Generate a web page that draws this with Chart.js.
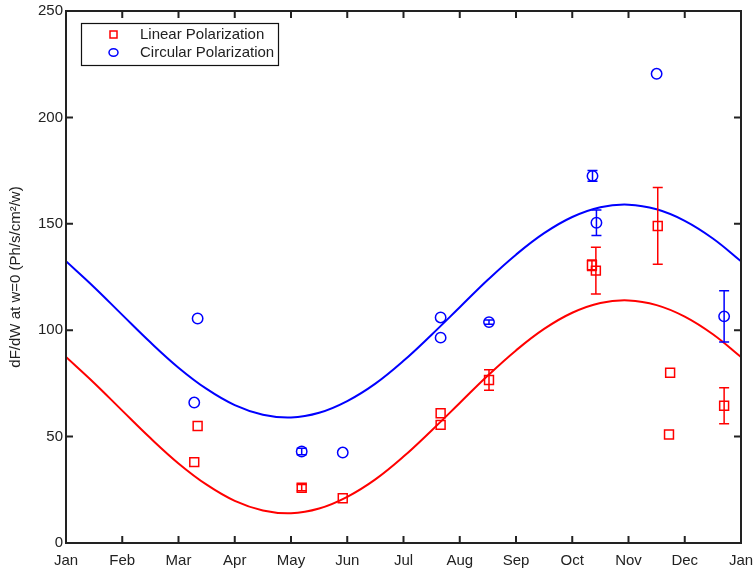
<!DOCTYPE html>
<html>
<head>
<meta charset="utf-8">
<script src="https://cdn.jsdelivr.net/npm/chart.js@4/dist/chart.umd.min.js"></script>
<style>
  body { margin: 0; background: #fff; }
  canvas { display: block; }
</style>
</head>
<body>
<canvas id="chart" width="754" height="572"></canvas>
<script>
const monthLabels = ['Jan', 'Feb', 'Mar', 'Apr', 'May', 'Jun', 'Jul', 'Aug', 'Sep', 'Oct', 'Nov', 'Dec', 'Jan'];

// fitted curves, every half month
const fitX = [0, 0.5, 1, 1.5, 2, 2.5, 3, 3.5, 4, 4.5, 5, 5.5, 6, 6.5, 7, 7.5, 8, 8.5, 9, 9.5, 10, 10.5, 11, 11.5, 12];
const circularFit = [132.4, 120.2, 107.2, 94.3, 82.4, 72.4, 64.8, 60.3, 59.0, 61.2, 66.7, 74.9, 85.6, 97.9, 110.8, 123.7, 135.5, 145.6, 153.2, 157.8, 159.0, 156.8, 151.4, 143.1, 132.4];
const linearFit = [87.4, 75.2, 62.2, 49.3, 37.4, 27.4, 19.8, 15.3, 14.0, 16.2, 21.7, 29.9, 40.6, 52.9, 65.8, 78.7, 90.5, 100.6, 108.2, 112.8, 114.0, 111.8, 106.4, 98.1, 87.4];

// measurements (x in months from Jan 1)
const linearX = [2.34, 2.28, 4.19, 4.92, 6.66, 6.66, 7.52, 9.35, 9.42, 10.52, 10.74, 10.72, 11.70];
const linearY = [55, 38, 26, 21, 61, 55.5, 76.6, 130.5, 128, 149, 80, 51, 64.5];
const linearErr = [0, 0, 1.5, 0, 0, 0, 4.8, 2.5, 11, 18, 0, 0, 8.5];

const circularX = [2.34, 2.28, 4.19, 4.92, 6.66, 6.66, 7.52, 9.36, 9.43, 10.50, 11.70];
const circularY = [105.5, 66, 43, 42.5, 106, 96.5, 103.8, 172.5, 150.5, 220.5, 106.5];
const circularErr = [0, 0, 1.5, 0, 0, 0, 1, 2.5, 6, 0, 12];

const RED = 'rgb(255,0,0)';
const BLUE = 'rgb(0,0,255)';
const FONT = "'Liberation Sans', Arial, sans-serif";

function toPoints(xs, ys) {
    return xs.map((x, i) => ({ x: x, y: ys[i] }));
}

const matlabFrame = {
    id: 'matlabFrame',
    afterDatasetsDraw(chart) {
        const ctx = chart.ctx;
        const xs = chart.scales.x;
        const ys = chart.scales.y;
        ctx.save();
        chart.data.datasets.forEach(ds => {
            if (!ds.errs) return;
            ctx.strokeStyle = ds.borderColor;
            ctx.lineWidth = 1.5;
            ds.data.forEach((p, i) => {
                const e = ds.errs[i];
                if (!e) return;
                const px = xs.getPixelForValue(p.x);
                const top = ys.getPixelForValue(p.y + e);
                const bot = ys.getPixelForValue(p.y - e);
                ctx.beginPath();
                ctx.moveTo(px, top); ctx.lineTo(px, bot);
                ctx.moveTo(px - 5, top); ctx.lineTo(px + 5, top);
                ctx.moveTo(px - 5, bot); ctx.lineTo(px + 5, bot);
                ctx.stroke();
            });
        });
        ctx.restore();
    },
    afterDraw(chart) {
        const ctx = chart.ctx;
        const a = chart.chartArea;
        const xs = chart.scales.x;
        const ys = chart.scales.y;
        const tl = 7;
        ctx.save();
        ctx.strokeStyle = '#222';
        ctx.lineWidth = 2;
        ctx.strokeRect(a.left, a.top, a.right - a.left, a.bottom - a.top);
        ctx.beginPath();
        xs.ticks.forEach(t => {
            const px = xs.getPixelForValue(t.value);
            ctx.moveTo(px, a.bottom); ctx.lineTo(px, a.bottom - tl);
            ctx.moveTo(px, a.top); ctx.lineTo(px, a.top + tl);
        });
        ys.ticks.forEach(t => {
            const py = ys.getPixelForValue(t.value);
            ctx.moveTo(a.left, py); ctx.lineTo(a.left + tl, py);
            ctx.moveTo(a.right, py); ctx.lineTo(a.right - tl, py);
        });
        ctx.stroke();

        // legend box
        const lx = a.left + 15, ly = a.top + 12, lw = 197, lh = 42;
        ctx.fillStyle = '#fff';
        ctx.fillRect(lx, ly, lw, lh);
        ctx.lineWidth = 1.2;
        ctx.strokeStyle = '#111';
        ctx.strokeRect(lx + 0.5, ly + 0.5, lw, lh);

        ctx.lineWidth = 1.5;
        ctx.strokeStyle = RED;
        ctx.strokeRect(lx + 29, ly + 8, 7, 7);
        ctx.strokeStyle = BLUE;
        ctx.beginPath();
        ctx.ellipse(lx + 32.5, ly + 29.5, 4.5, 3.8, 0, 0, Math.PI * 2);
        ctx.stroke();

        ctx.fillStyle = '#222';
        ctx.font = '15px ' + FONT;
        ctx.textBaseline = 'middle';
        ctx.textAlign = 'left';
        ctx.fillText('Linear Polarization', lx + 59, ly + 12);
        ctx.fillText('Circular Polarization', lx + 59, ly + 30);
        ctx.restore();
    }
};

const config = {
    data: {
        datasets: [
            {
                type: 'line',
                label: 'Circular fit',
                data: toPoints(fitX, circularFit),
                borderColor: BLUE,
                borderWidth: 2,
                pointRadius: 0,
                tension: 0.4,
            },
            {
                type: 'line',
                label: 'Linear fit',
                data: toPoints(fitX, linearFit),
                borderColor: RED,
                borderWidth: 2,
                pointRadius: 0,
                tension: 0.4,
            },
            {
                type: 'scatter',
                label: 'Linear Polarization',
                data: toPoints(linearX, linearY),
                errs: linearErr,
                borderColor: RED,
                backgroundColor: 'rgba(0,0,0,0)',
                pointStyle: 'rect',
                pointRadius: 6.3,
                pointBorderWidth: 1.5,
            },
            {
                type: 'scatter',
                label: 'Circular Polarization',
                data: toPoints(circularX, circularY),
                errs: circularErr,
                borderColor: BLUE,
                backgroundColor: 'rgba(0,0,0,0)',
                pointStyle: 'circle',
                pointRadius: 5.2,
                pointBorderWidth: 1.5,
            },
        ]
    },
    options: {
        responsive: false,
        animation: false,
        layout: { padding: { left: 0, top: 11, right: 13, bottom: 0 } },
        plugins: {
            legend: { display: false },
            tooltip: { enabled: false },
        },
        scales: {
            x: {
                type: 'linear',
                min: 0,
                max: 12,
                grid: { display: false, drawTicks: false, tickLength: 0 },
                border: { display: false },
                ticks: {
                    stepSize: 1,
                    padding: 9,
                    color: '#222',
                    font: { family: FONT, size: 15 },
                    maxRotation: 0,
                    autoSkip: false,
                    callback: v => monthLabels[v],
                },
                afterFit: s => { s.height = 29; s.paddingLeft = 0; s.paddingRight = 0; },
            },
            y: {
                min: 0,
                max: 250,
                grid: { display: false, drawTicks: false, tickLength: 0 },
                border: { display: false },
                ticks: {
                    stepSize: 50,
                    padding: 3,
                    color: '#222',
                    font: { family: FONT, size: 15 },
                },
                title: {
                    display: true,
                    text: 'dF/dW at w=0 (Ph/s/cm\u00B2/w)',
                    color: '#222',
                    font: { family: FONT, size: 15 },
                    padding: { top: 7, bottom: 0 },
                },
                afterFit: s => { s.width = 66; s.paddingTop = 0; s.paddingBottom = 0; },
            },
        },
    },
    plugins: [matlabFrame],
};

new Chart(document.getElementById('chart'), config);
</script>
</body>
</html>
